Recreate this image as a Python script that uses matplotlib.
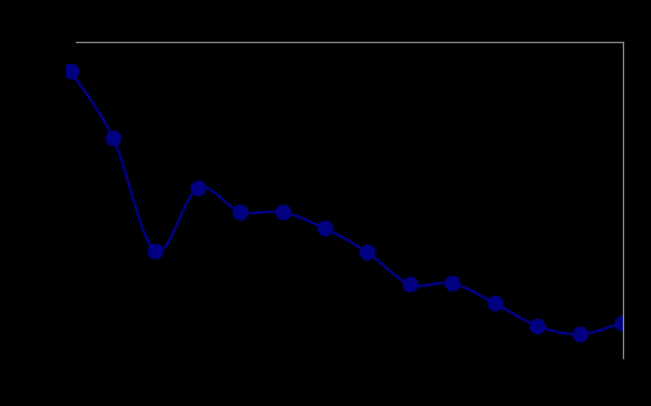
import numpy as np
import matplotlib
matplotlib.use("Agg")
import matplotlib.pyplot as plt
from matplotlib.lines import Line2D

# Data (arbitrary 0-100 scale)
categories = list(range(1, 15))
values = [90.8, 69.7, 33.9, 53.7, 46.3, 46.1, 41.0, 33.4, 23.3, 23.6, 17.3, 10.2, 7.5, 11.1]

W, H = 651, 406
fig = plt.figure(figsize=(W / 100 + 0.0001, H / 100 + 0.0001), dpi=100, facecolor="black")

left_px, right_px, top_px, bottom_px = 66, 623, 42, 358
ax = fig.add_axes([left_px / W, (H - bottom_px) / H,
                   (right_px - left_px) / W, (bottom_px - top_px) / H])
ax.set_facecolor("black")
for s in ax.spines.values():
    s.set_visible(False)
ax.set_xticks([])
ax.set_yticks([])

x = np.arange(len(values), dtype=float)
y = np.array(values, dtype=float)

# Smoothed line (Catmull-Rom style Bezier, like a spreadsheet "smoothed line")
def smooth(xs, ys, n=30, t=1 / 6):
    px, py = [], []
    N = len(xs)
    for i in range(N - 1):
        p0 = np.array([xs[max(i - 1, 0)], ys[max(i - 1, 0)]])
        p1 = np.array([xs[i], ys[i]])
        p2 = np.array([xs[i + 1], ys[i + 1]])
        p3 = np.array([xs[min(i + 2, N - 1)], ys[min(i + 2, N - 1)]])
        c1 = p1 + (p2 - p0) * t
        c2 = p2 - (p3 - p1) * t
        s = np.linspace(0, 1, n)[:, None]
        pts = ((1 - s) ** 3) * p1 + 3 * ((1 - s) ** 2) * s * c1 + 3 * (1 - s) * s ** 2 * c2 + s ** 3 * p2
        px.extend(pts[:, 0]); py.extend(pts[:, 1])
    return np.array(px), np.array(py)

sx, sy = smooth(x, y)
ax.plot(sx, sy, color="#000080", lw=2.0, solid_capstyle="round")
ax.plot(x, y, linestyle="none", marker="o", markersize=10.5,
        markerfacecolor="#000080", markeredgecolor="#000080")

ax.set_xlim((left_px - 70.5) / 42.42, (right_px - 70.5) / 42.42)
ax.set_ylim(0, 100)

# Plot-area border (only top and right visible in gray)
gray = "#8c8c8c"
fig.add_artist(Line2D([76 / W, 623 / W], [(H - 42) / H, (H - 42) / H],
                      transform=fig.transFigure, color=gray, lw=1.0))
fig.add_artist(Line2D([623 / W, 623 / W], [(H - 42) / H, (H - 358) / H],
                      transform=fig.transFigure, color=gray, lw=1.0))

fig.savefig("out.png", dpi=100, facecolor="black")
